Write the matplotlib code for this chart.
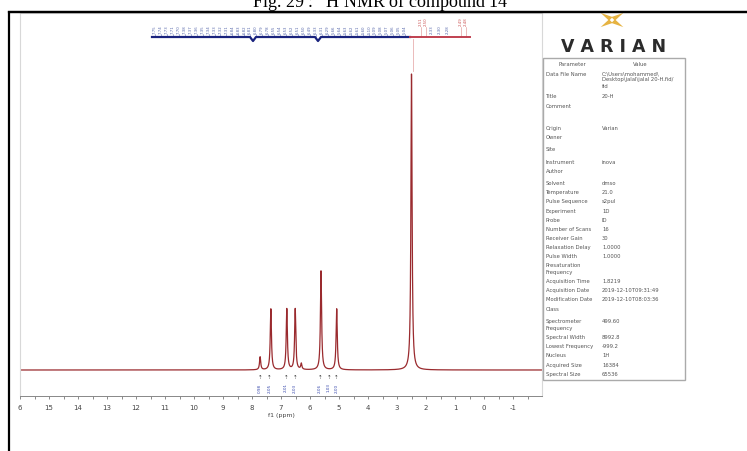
import matplotlib.pyplot as plt
import numpy as np
from matplotlib.patches import Rectangle, Polygon

# peaks (ppm, height in px above baseline)
peak_ppm = [7.72, 7.35, 6.80, 6.51, 6.30, 5.62, 5.08, 2.50]
peak_h = [13, 61, 61, 61, 6, 99, 61, 296]
tick_vals = list(range(16, -2, -1))
tick_labels = ['6'] + [str(v) for v in range(15, -2, -1)]

# integrals under the peaks
integ_ppm = [7.72, 7.40, 6.83, 6.52, 5.65, 5.35, 5.08]
integ_txt = ['0.98', '2.05', '2.01', '2.03', '2.06', '1.03', '2.00']

# peak picking labels on top (blue, then the red ones)
pick_vals = ['7.75', '7.74', '7.73', '7.71', '7.70', '7.38', '7.37', '7.36', '7.35', '7.34',
             '7.33', '7.32', '7.31', '6.84', '6.83', '6.82', '6.81', '6.80', '6.79', '6.78',
             '6.55', '6.54', '6.53', '6.52', '6.51', '6.50', '6.49', '6.33', '6.31', '6.29',
             '5.66', '5.64', '5.63', '5.62', '5.61', '5.60', '5.10', '5.09', '5.08', '5.07',
             '5.06', '5.05', '5.04']
red_vals = ['2.51', '2.50', '2.49', '2.48']

params = ['Data File Name', '', '', 'Title', 'Comment', 'Origin', 'Owner', 'Site', 'Instrument',
          'Author', 'Solvent', 'Temperature', 'Pulse Sequence', 'Experiment', 'Probe',
          'Number of Scans', 'Receiver Gain', 'Relaxation Delay', 'Pulse Width', 'Presaturation',
          'Frequency', 'Acquisition Time', 'Acquisition Date', 'Modification Date', 'Class',
          'Spectrometer', 'Frequency', 'Spectral Width', 'Lowest Frequency', 'Nucleus',
          'Acquired Size', 'Spectral Size']
values = ['C:\\Users\\mohammed\\', 'Desktop\\jalal\\jalal 20-H.fid/', 'fid', '20-H', '', 'Varian', '',
          '', 'inova', '', 'dmso', '21.0', 's2pul', '1D', 'ID', '16', '30', '1.0000', '1.0000', '', '',
          '1.8219', '2019-12-10T09:31:49', '2019-12-10T08:03:36', '', '499.60', '', '8992.8',
          '-999.2', '1H', '16384', '65536']
row_y = [74, 80, 87, 97, 106, 129, 138, 150, 163, 172, 184, 193, 202, 212, 221, 230, 239, 248, 257,
         266, 273, 282, 291, 300, 310, 322, 329, 338, 347, 356, 366, 375]

W, H = 747, 452
fig = plt.figure(figsize=(W / 100, H / 100), dpi=100)

# spectrum axes (px: left 20, right 542, top 14, bottom 397)
ax = fig.add_axes([20 / W, (H - 397) / H, 522 / W, 383 / H])
x = np.linspace(16.0, -2.0, 20000)
y = np.zeros_like(x)
for p, h in zip(peak_ppm, peak_h):
    y += h / (1 + ((x - p) / 0.024) ** 2)
ax.plot(x, y, color='#9a2a2e', lw=0.9)
ax.set_xlim(16.0, -2.0)
ax.set_ylim(-26, 357)
ax.set_yticks([])
ax.set_xticks(tick_vals)
ax.set_xticklabels(tick_labels)
ax.set_xticks(np.arange(15.5, -2, -1), minor=True)
ax.tick_params(axis='x', which='both', direction='out', length=2.5, width=0.6, color='#777',
               labelsize=5, labelcolor='#444', pad=3)
for s in ['left', 'right', 'top']:
    ax.spines[s].set_color('#d8d8d8')
    ax.spines[s].set_linewidth(0.8)
ax.spines['bottom'].set_color('#888')
ax.spines['bottom'].set_linewidth(0.7)
ax.set_xlabel('f1 (ppm)', fontsize=4.5, color='#444', labelpad=2)

# integral marks
for p, t in zip(integ_ppm, integ_txt):
    ax.text(p, -7, '⇡', ha='center', va='center', fontsize=4, color='#333')
    ax.text(p, -17, t, ha='center', va='center', fontsize=3, color='#3344aa', rotation=90)

# overlay in pixel coordinates
ov = fig.add_axes([0, 0, 1, 1], facecolor='none')
ov.set_xlim(0, W)
ov.set_ylim(H, 0)
ov.axis('off')

# title, cut at the top edge as in the scan
ov.text(380, 8, 'Fig. 29 : $^{1}$H NMR of compound 14', ha='center', va='baseline',
        fontsize=13, family='Liberation Serif', color='black')

# black frame
ov.plot([9, 9, W + 5], [H + 5, 13, 13], color='black', lw=1.6, solid_joinstyle='miter')

# peak picking labels
xs = np.linspace(155, 405, len(pick_vals))
for xx, t in zip(xs, pick_vals):
    ov.text(xx, 30, t, rotation=90, ha='center', va='center', fontsize=2.8, color='#5566aa')
    ov.plot([xx, xx], [35, 38], color='#6677bb', lw=0.4)
for xx, t in zip([421, 426, 461, 466], red_vals):
    ov.text(xx, 22, t, rotation=90, ha='center', va='center', fontsize=2.8, color='#cc5555')
    ov.plot([xx, xx], [28, 38], color='#dd8888', lw=0.4)
for xx, t in zip([432, 440, 448], ['2.33', '2.30', '2.28']):
    ov.text(xx, 30, t, rotation=90, ha='center', va='center', fontsize=2.8, color='#5566aa')
ov.plot([152, 250, 253, 256, 315, 318, 321, 410], [38, 38, 42, 38, 38, 42, 38, 38], color='#1a237e', lw=1.6)
ov.plot([410, 470], [38, 38], color='#c04050', lw=1.4)
ov.plot([413, 413], [40, 72], color='#e8b0b0', lw=0.6)

# Varian logo
gold = '#e6b342'
cx, cy = 612, 21
for ang in [45, 135, 225, 315]:
    a = np.radians(ang)
    tip = (cx + 16 * np.cos(a), cy - 10 * np.sin(a))
    b1 = (cx + 3 * np.cos(a + 1.0), cy - 3 * np.sin(a + 1.0))
    b2 = (cx + 3 * np.cos(a - 1.0), cy - 3 * np.sin(a - 1.0))
    ov.add_patch(Polygon([b1, tip, b2], closed=True, color=gold, lw=0))
ov.plot([9, W + 5], [13, 13], color='black', lw=1.6)
ov.text(614, 47, 'V A R I A N', ha='center', va='center', fontsize=12.5, fontweight='bold',
        color='#2b2b2b', family='DejaVu Sans')

# parameter table
ov.add_patch(Rectangle((543, 59), 142, 322, fill=False, edgecolor='#aaaaaa', lw=1))
ov.text(572, 64, 'Parameter', ha='center', va='center', fontsize=3.8, color='#555')
ov.text(640, 64, 'Value', ha='center', va='center', fontsize=3.8, color='#555')
for p, v, yy in zip(params, values, row_y):
    ov.text(546, yy, p, ha='left', va='center', fontsize=3.8, color='#555')
    ov.text(602, yy, v, ha='left', va='center', fontsize=3.8, color='#555')

fig.savefig('out.png', dpi=100)
